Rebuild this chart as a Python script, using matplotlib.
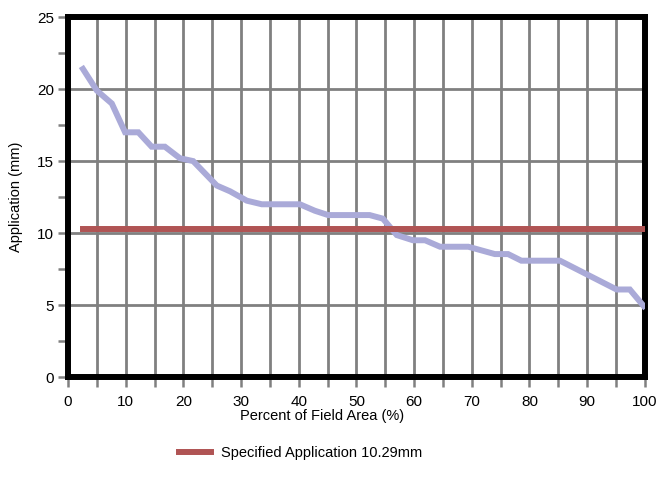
import numpy as np
import matplotlib.pyplot as plt
from matplotlib.ticker import MultipleLocator

plt.rcParams['font.family'] = ['Liberation Sans', 'DejaVu Sans']

# percent of field area vs. application depth
pct = [2.6, 5.0, 7.6, 9.9, 12.2, 14.5, 16.8, 19.4, 21.7, 25.8, 28.1, 31.0, 33.6,
       40.2, 42.8, 45.1, 50.6, 52.3, 54.6, 57.0, 59.8, 61.9, 64.5, 69.4, 74.0,
       76.3, 78.6, 85.3, 95.1, 97.4, 99.8]
application = [21.4, 19.9, 19.0, 17.0, 17.0, 16.0, 16.0, 15.2, 15.0, 13.3, 12.9,
               12.25, 12.0, 12.0, 11.55, 11.25, 11.25, 11.25, 11.0, 9.86, 9.5,
               9.5, 9.05, 9.05, 8.54, 8.54, 8.08, 8.08, 6.08, 6.08, 4.93]

spec_x = [2.6, 100]
spec_value = 10.29
spec_label = "Specified Application 10.29mm"

fig = plt.figure(figsize=(6.6, 4.9), dpi=100)
ax = fig.add_axes([0.103, 0.2306, 0.874, 0.7344])

ax.plot(pct, application, color='#aaaad8', lw=4.3, solid_joinstyle='miter', zorder=3)
spec_line, = ax.plot(spec_x, [spec_value, spec_value], color='#b05454', lw=4.3,
                     label=spec_label, zorder=4)

ax.set_xlim(0, 100)
ax.set_ylim(0, 25)
ax.xaxis.set_major_locator(MultipleLocator(10))
ax.xaxis.set_minor_locator(MultipleLocator(5))
ax.yaxis.set_major_locator(MultipleLocator(5))
ax.yaxis.set_minor_locator(MultipleLocator(2.5))

ax.grid(True, which='major', axis='y', color='#808080', lw=2)
ax.grid(True, which='both', axis='x', color='#808080', lw=2)
ax.set_axisbelow(True)

for s in ax.spines.values():
    s.set_color('black')
    s.set_linewidth(4.3)

ax.tick_params(axis='both', which='both', direction='out', color='#808080',
               width=1.8, length=7, labelsize=11)
ax.tick_params(axis='x', which='both', pad=6)
ax.tick_params(axis='y', which='both', pad=3)

ax.set_xlabel("Percent of Field Area (%)", fontsize=10.5)
ax.xaxis.set_label_coords(0.44, -0.088)
ax.set_ylabel("Application (mm)", fontsize=10.5, labelpad=10)

fig.legend(handles=[spec_line], loc='center', bbox_to_anchor=(0.455, 0.075),
           frameon=False, fontsize=10.5, handlelength=2.2, handletextpad=0.7)

fig.savefig("out.png", dpi=100)
